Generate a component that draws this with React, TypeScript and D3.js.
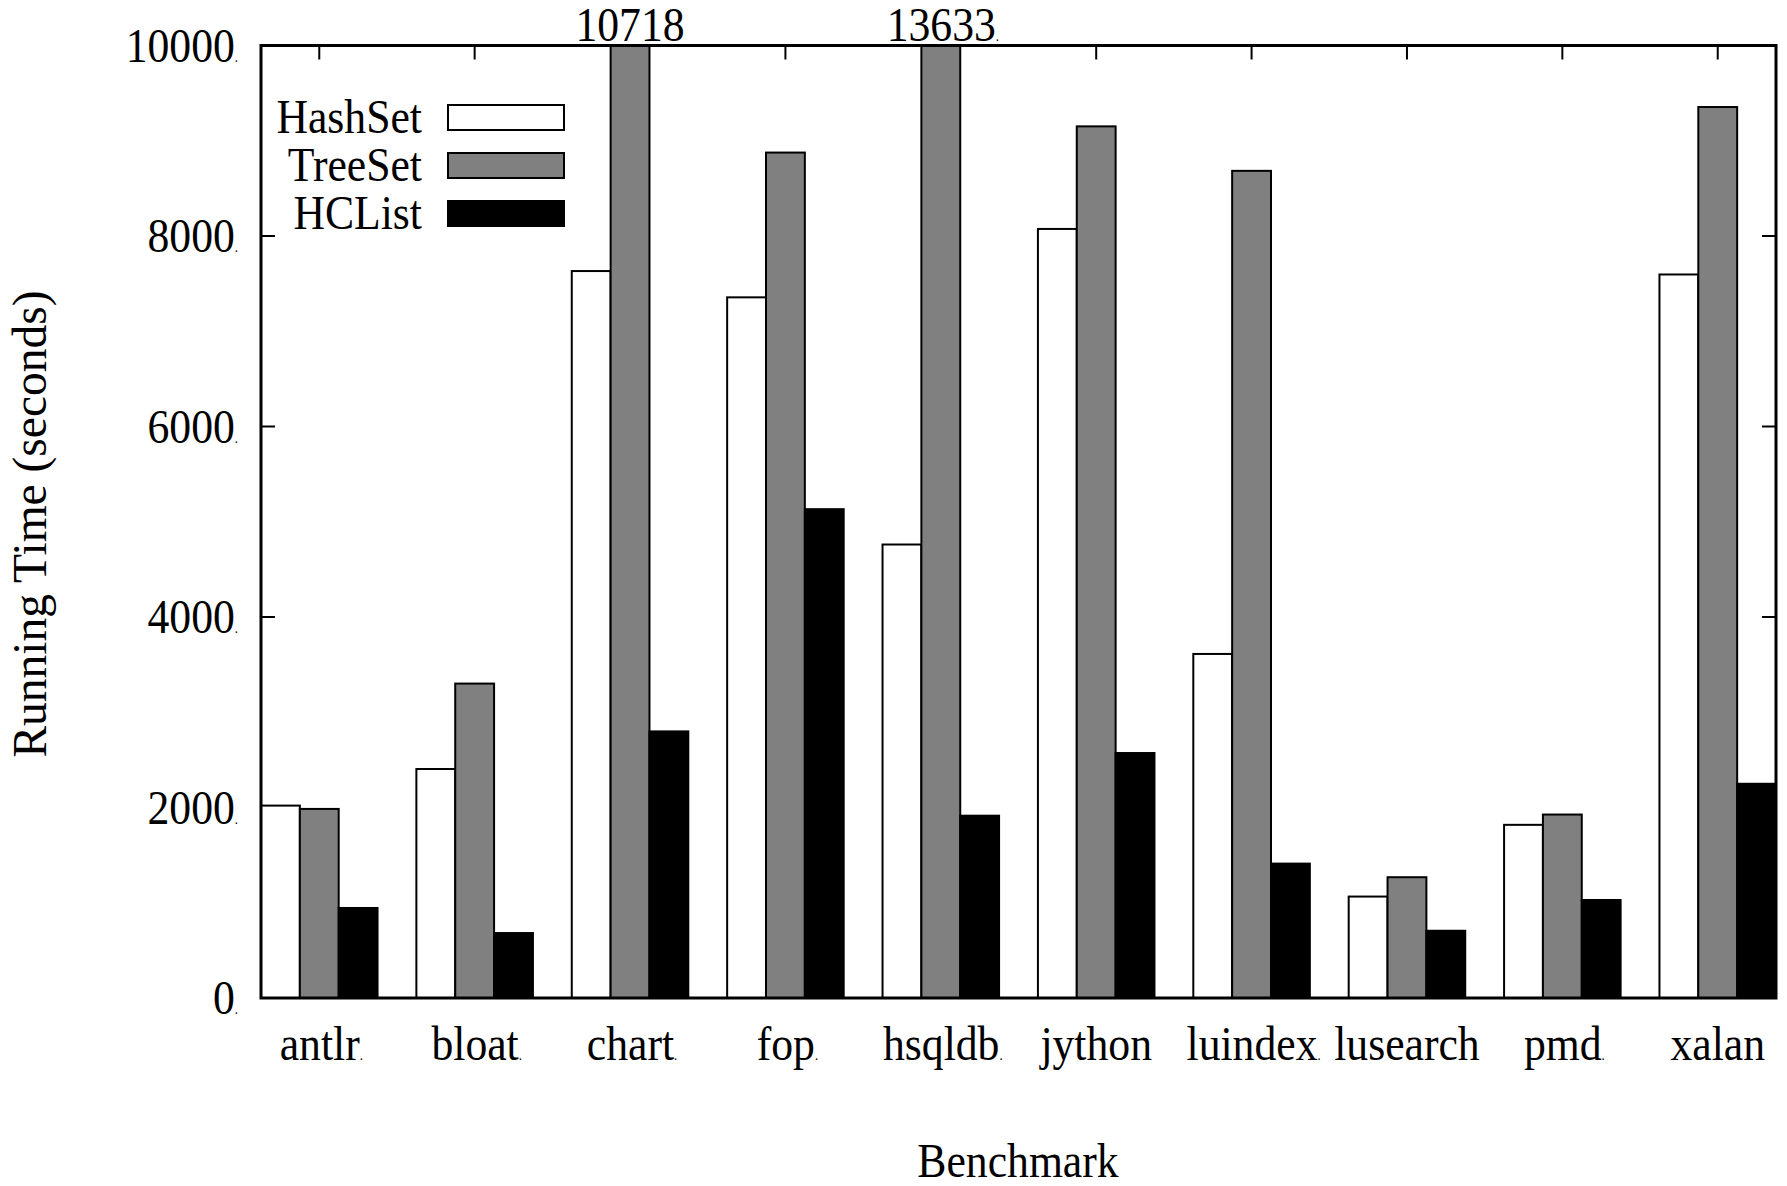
import React from "react";
import * as d3 from "d3";

const categories = ["antlr", "bloat", "chart", "fop", "hsqldb", "jython", "luindex", "lusearch", "pmd", "xalan"];
const labelDot = [true, true, true, true, true, false, true, false, true, false];
const seriesNames = ["HashSet", "TreeSet", "HCList"];
const hashSet = [2020, 2404, 7632, 7356, 4761, 8074, 3612, 1065, 1818, 7596];
const treeSet = [1985, 3301, 10718, 8876, 13633, 9151, 8684, 1268, 1926, 9354];
const hcList = [945, 682, 2799, 5132, 1914, 2572, 1411, 706, 1029, 2249];
const overflowLabels = ["", "", "10718", "", "13633", "", "", "", "", ""];
const overflowDot = [false, false, false, false, true, false, false, false, false, false];
const yTicks = [0, 2000, 4000, 6000, 8000, 10000];

const W = 1787;
const H = 1186;
const left = 261;
const right = 1776;
const top = 45.5;
const bottom = 998;
const FONT = "'Liberation Serif', 'Times New Roman', serif";
const FS = 48;
const SX = 0.91;

const fills = ["#ffffff", "#808080", "#000000"];

function T({ x, y, anchor, children, size = FS, weight = "normal", rotate = 0, sx = SX }: any) {
  return (
    <text
      transform={`translate(${x},${y}) rotate(${rotate}) scale(${sx},1)`}
      textAnchor={anchor}
      fontFamily={FONT}
      fontSize={size}
      fontWeight={weight}
      fill="#000"
    >
      {children}
    </text>
  );
}

const Dot = () => <tspan fontSize={14}>.</tspan>;

export default function App() {
  const series = [hashSet, treeSet, hcList];
  const nBars = categories.length * 3 + (categories.length - 1);
  const bw = (right - left) / nBars;
  const x0 = d3
    .scaleBand<string>()
    .domain(categories)
    .range([left, right + bw])
    .paddingInner(0)
    .paddingOuter(0);
  const y = d3.scaleLinear().domain([0, 10000]).range([bottom, top]);
  const cy = (v: number) => Math.max(y(v), top);
  const tick = 14;

  return (
    <svg width={W} height={H} style={{ position: "absolute", left: 0, top: 0, background: "#fff" }}>
      <rect x={0} y={0} width={W} height={H} fill="#fff" />
      {/* x ticks (top and bottom mirrors) */}
      {categories.map((c) => {
        const cx = (x0(c) as number) + 1.5 * bw;
        return (
          <g key={"xt" + c}>
            <line x1={cx} x2={cx} y1={top} y2={top + tick} stroke="#000" strokeWidth={2} />
            <line x1={cx} x2={cx} y1={bottom} y2={bottom - tick} stroke="#000" strokeWidth={2} />
          </g>
        );
      })}
      {/* y ticks */}
      {yTicks.map((t) => (
        <g key={"yt" + t}>
          <line x1={left} x2={left + tick} y1={y(t)} y2={y(t)} stroke="#000" strokeWidth={2} />
          <line x1={right} x2={right - tick} y1={y(t)} y2={y(t)} stroke="#000" strokeWidth={2} />
          <T x={238} y={y(t) + 16} anchor="end">
            {t}
            <Dot />
          </T>
        </g>
      ))}
      {/* bars */}
      {categories.map((c, i) => (
        <g key={"g" + c}>
          {series.map((s, k) => {
            const bx = (x0(c) as number) + k * bw;
            const by = cy(s[i]);
            return (
              <rect
                key={k}
                x={bx}
                y={by}
                width={bw}
                height={bottom - by}
                fill={fills[k]}
                stroke="#000"
                strokeWidth={2}
              />
            );
          })}
        </g>
      ))}
      {/* overflow labels */}
      {categories.map((c, i) =>
        overflowLabels[i] ? (
          <T key={"ol" + c} x={(x0(c) as number) + 1.5 * bw + (overflowDot[i] ? 2 : 0)} y={top - 5} anchor="middle">
            {overflowLabels[i]}
            {overflowDot[i] && <Dot />}
          </T>
        ) : null
      )}
      {/* frame */}
      <rect x={left} y={top} width={right - left} height={bottom - top} fill="none" stroke="#000" strokeWidth={3} />
      {/* x labels */}
      {categories.map((c, i) => {
        const cx = (x0(c) as number) + 1.5 * bw;
        return (
          <T key={"xl" + c} x={cx + (labelDot[i] ? 2 : 0)} y={1060} anchor="middle">
            {c}
            {labelDot[i] && <Dot />}
          </T>
        );
      })}
      {/* legend */}
      {seriesNames.map((n, k) => {
        const ly = 117 + k * 48;
        return (
          <g key={"lg" + n}>
            <T x={422} y={ly + 16} anchor="end">
              {n}
            </T>
            <rect x={448} y={ly - 12} width={116} height={25} fill={fills[k]} stroke="#000" strokeWidth={2} />
          </g>
        );
      })}
      {/* axis titles */}
      <T x={1018} y={1177} anchor="middle">
        Benchmark
      </T>
      <T x={46} y={524} anchor="middle" rotate={-90} sx={1} size={47.5}>
        Running Time (seconds)
      </T>
    </svg>
  );
}
